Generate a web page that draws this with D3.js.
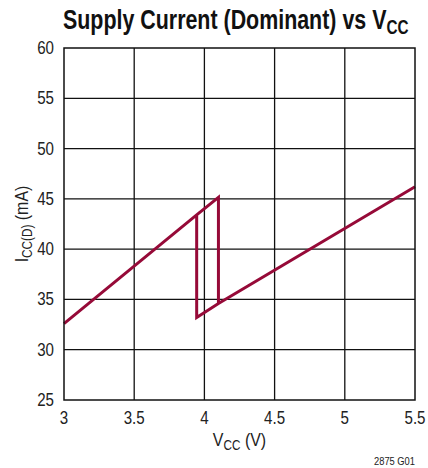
<!DOCTYPE html>
<html>
<head>
<meta charset="utf-8">
<script src="https://cdn.jsdelivr.net/npm/d3@7"></script>
<style>
  body { margin: 0; background: #fff; }
  svg text { font-family: "Liberation Sans", Arial, sans-serif; fill: #222; }
</style>
</head>
<body>
<svg id="chart" width="428" height="468"></svg>
<script>
// values
const xTicks = [3, 3.5, 4, 4.5, 5, 5.5];
const yTicks = [25, 30, 35, 40, 45, 50, 55, 60];
// hysteresis loop: up sweep then down sweep
const vcc = [3, 3.945, 4.1, 4.1, 5.5, 4.1, 3.945, 3.945, 3];
const icc = [32.6, 43.4, 45.15, 34.6, 46.2, 34.6, 33.2, 43.4, 32.6];

const svg = d3.select('#chart');
const margin = { left: 64, right: 13, top: 48, bottom: 68 };
const W = 428, H = 468;
const narrow = 0.84; // fake a condensed face

const x = d3.scaleLinear().domain([3, 5.5]).range([margin.left, W - margin.right]);
const y = d3.scaleLinear().domain([25, 60]).range([H - margin.bottom, margin.top]);

// grid
const grid = svg.append('g');
grid.selectAll('line.v')
  .data(xTicks.slice(1, -1))
  .join('line')
  .attr('x1', d => x(d)).attr('x2', d => x(d))
  .attr('y1', y(25)).attr('y2', y(60))
  .attr('stroke', '#111').attr('stroke-width', 1.3);
grid.selectAll('line.h')
  .data(yTicks.slice(1, -1))
  .join('line')
  .attr('x1', x(3)).attr('x2', x(5.5))
  .attr('y1', d => y(d)).attr('y2', d => y(d))
  .attr('stroke', '#111').attr('stroke-width', 1.3);

// data line
svg.append('path')
  .datum(d3.zip(vcc, icc))
  .attr('d', d3.line().x(d => x(d[0])).y(d => y(d[1])))
  .attr('fill', 'none')
  .attr('stroke', '#960a38')
  .attr('stroke-width', 3)
  .attr('stroke-linejoin', 'miter');

// frame
svg.append('rect')
  .attr('x', x(3)).attr('y', y(60))
  .attr('width', x(5.5) - x(3)).attr('height', y(25) - y(60))
  .attr('fill', 'none').attr('stroke', '#111').attr('stroke-width', 1.5);

// tick labels
svg.append('g').selectAll('text')
  .data(yTicks)
  .join('text')
  .attr('transform', d => `translate(${margin.left - 10},${y(d) + 6}) scale(${narrow},1)`)
  .attr('text-anchor', 'end')
  .attr('font-size', 18)
  .text(d => d);

svg.append('g').selectAll('text')
  .data(xTicks)
  .join('text')
  .attr('transform', d => `translate(${x(d)},${H - margin.bottom + 24}) scale(${narrow},1)`)
  .attr('text-anchor', 'middle')
  .attr('font-size', 18)
  .text(d => d);

// title
const title = svg.append('text')
  .attr('transform', 'translate(63,29) scale(0.765,1)')
  .attr('font-size', 28)
  .attr('font-weight', 'bold')
  .style('fill', '#111');
title.append('tspan').text('Supply Current (Dominant) vs V');
title.append('tspan').attr('font-size', 20).attr('dy', 5).text('CC');

// axis labels
const xl = svg.append('text')
  .attr('transform', `translate(${x(4.25)},446) scale(${narrow},1)`)
  .attr('text-anchor', 'middle')
  .attr('font-size', 19);
xl.append('tspan').text('V');
xl.append('tspan').attr('font-size', 14).attr('dy', 4).text('CC');
xl.append('tspan').attr('dy', -4).text(' (V)');

const yl = svg.append('text')
  .attr('transform', `translate(28,${y(42.5)}) rotate(-90) scale(${narrow},1)`)
  .attr('text-anchor', 'middle')
  .attr('font-size', 19);
yl.append('tspan').text('I');
yl.append('tspan').attr('font-size', 14).attr('dy', 4).text('CC(D)');
yl.append('tspan').attr('dy', -4).text(' (mA)');

svg.append('text')
  .attr('transform', 'translate(415,465) scale(0.85,1)')
  .attr('text-anchor', 'end')
  .attr('font-size', 11)
  .text('2875 G01');
</script>
</body>
</html>
